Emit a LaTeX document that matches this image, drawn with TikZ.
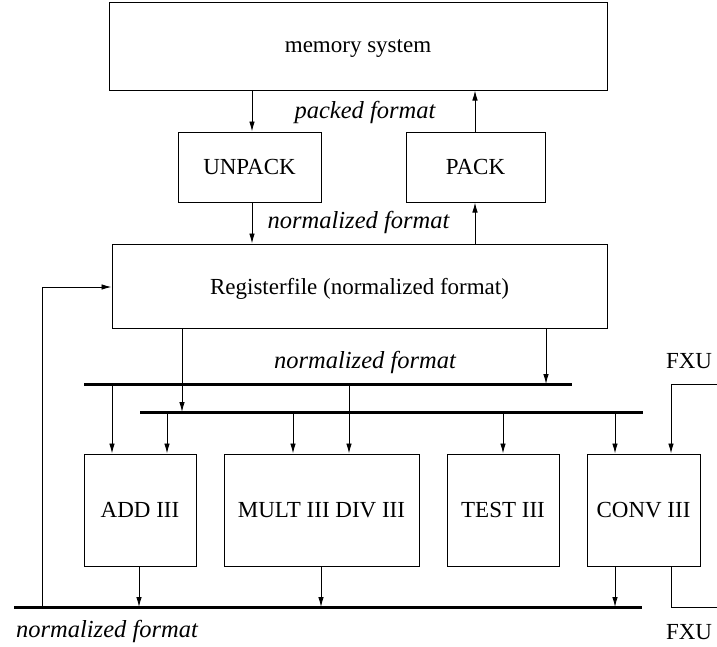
\documentclass[tikz,border=0pt]{standalone}
\usepackage{fontspec}
\setmainfont{Liberation Serif}
\usetikzlibrary{arrows.meta}
\tikzset{
  box/.style={draw, line width=1pt, inner sep=0pt, text depth=0pt, font=\fontsize{23}{26}\selectfont},
  lbl/.style={font=\fontsize{24.5}{27}\selectfont\itshape, inner sep=0pt},
  plain/.style={font=\fontsize{23}{26}\selectfont, inner sep=0pt},
  arr/.style={line width=0.9pt, -{Latex[length=10pt,width=5.5pt]}},
  wire/.style={line width=0.9pt},
  bus/.style={line width=3pt},
}
\begin{document}
\begin{tikzpicture}[x=1pt,y=-1pt]
\useasboundingbox (0,0) rectangle (717,646);

% functional blocks
\node[box, minimum width=498, minimum height=88] (mem) at (358,46) {memory system};
\node[box, minimum width=143, minimum height=70] (unpack) at (249.5,167) {UNPACK};
\node[box, minimum width=139, minimum height=70] (pack) at (475.5,167) {PACK};
\node[box, minimum width=495, minimum height=84] (reg) at (359.5,286) {Registerfile (normalized format)};
\node[box, minimum width=112, minimum height=112] (add) at (140,510) {ADD III};
\node[box, minimum width=195, minimum height=112] (mul) at (321.5,510) {MULT III\ DIV III};
\node[box, minimum width=112, minimum height=112] (tst) at (503,510) {TEST III};
\node[box, minimum width=113, minimum height=112] (cnv) at (643.5,510) {CONV III};

% format labels
\node[lbl] (pf) at (365,112) {packed format};
\node[lbl] (nf1) at (358.5,222) {normalized format};
\node[lbl] (nf2) at (365,362) {normalized format};
\node[lbl] (nf3) at (107,631) {normalized format};
\node[plain] (fxu1) at (689,361) {FXU};
\node[plain] (fxu2) at (689,632) {FXU};

% buses
\coordinate (b1l) at (84,384);  \coordinate (b1r) at (572,384);
\coordinate (b2l) at (140,412); \coordinate (b2r) at (643,412);
\coordinate (b3l) at (14,607);  \coordinate (b3r) at (642,607);
\draw[bus] (b1l) -- (b1r);
\draw[bus] (b2l) -- (b2r);
\draw[bus] (b3l) -- (b3r);

% memory <-> pack/unpack <-> register file
\draw[arr] (mem.south -| 252,0) -- (unpack.north -| 252,0);
\draw[arr] (unpack.south -| 252,0) -- (reg.north -| 252,0);
\draw[arr] (pack.north -| 475,0) -- (mem.south -| 475,0);
\draw[arr] (reg.north -| 475,0) -- (pack.south -| 475,0);

% register file onto the operand buses
\draw[arr] (reg.south -| 182,0) -- (b2l -| 182,0);
\draw[arr] (reg.south -| 546,0) -- (b1l -| 546,0);

% operand buses to the units
\draw[arr] (b1l -| 112,0) -- (add.north -| 112,0);
\draw[arr] (b2l -| 167,0) -- (add.north -| 167,0);
\draw[arr] (b2l -| 293,0) -- (mul.north -| 293,0);
\draw[arr] (b1l -| 349,0) -- (mul.north -| 349,0);
\draw[arr] (b2l -| 503,0) -- (tst.north -| 503,0);
\draw[arr] (b2l -| 615,0) -- (cnv.north -| 615,0);

% fixed point unit link into CONV
\coordinate (fxin) at (717,384);
\draw[arr] (fxin) -- (671,384) -- (cnv.north -| 671,0);

% results onto the result bus
\draw[arr] (add.south -| 139,0) -- (b3l -| 139,0);
\draw[arr] (mul.south -| 321,0) -- (b3l -| 321,0);
\draw[arr] (cnv.south -| 615,0) -- (b3l -| 615,0);

% CONV result to the fixed point unit
\coordinate (fxout) at (717,607);
\draw[wire] (cnv.south -| 671,0) -- (671,607) -- (fxout);

% write-back path into the register file
\draw[arr] (b3l -| 42,0) -- (42,287) -- (reg.west |- 0,287);
\end{tikzpicture}
\end{document}
